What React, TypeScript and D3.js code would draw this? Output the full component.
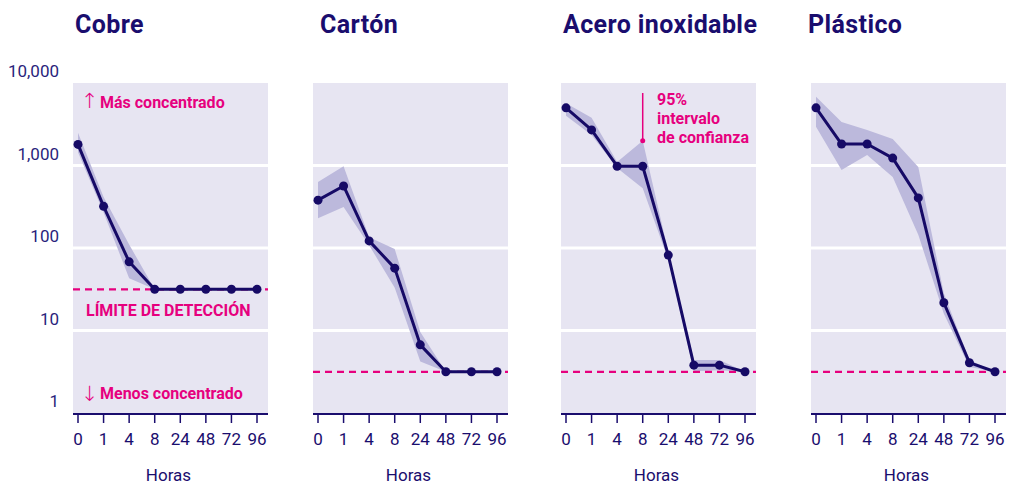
import React from "react"
import * as d3 from "d3"

const hours = ["0", "1", "4", "8", "24", "48", "72", "96"]
const materials = ["Cobre", "Cartón", "Acero inoxidable", "Plástico"]
const yTicks = [1, 10, 100, 1000, 10000]
const yTickLabels = ["1", "10", "100", "1,000", "10,000"]
const detectionLimits = [31.6, 3.16, 3.16, 3.16]

// titer estimates and 95% interval
const cobreMean = [1800, 320, 68, 31.6, 31.6, 31.6, 31.6, 31.6]
const cobreLow = [1450, 270, 43, 31.6, 31.6, 31.6, 31.6, 31.6]
const cobreHigh = [2500, 415, 110, 31.6, 31.6, 31.6, 31.6, 31.6]

const cartonMean = [380, 565, 122, 57, 6.7, 3.16, 3.16, 3.16]
const cartonLow = [230, 315, 108, 33, 4.2, 3.16, 3.16, 3.16]
const cartonHigh = [630, 980, 135, 97, 9.6, 3.16, 3.16, 3.16]

const aceroMean = [5000, 2700, 980, 980, 82, 3.8, 3.8, 3.16]
const aceroLow = [4000, 2350, 930, 530, 72, 3.2, 3.3, 3.16]
const aceroHigh = [5700, 3800, 1100, 2000, 90, 4.4, 4.4, 3.16]

const plasticoMean = [5000, 1820, 1820, 1230, 405, 21.7, 4.07, 3.16]
const plasticoLow = [2950, 880, 1340, 725, 145, 16, 3.6, 3.16]
const plasticoHigh = [6800, 3370, 2700, 2100, 960, 28, 4.4, 3.16]

const means = [cobreMean, cartonMean, aceroMean, plasticoMean]
const lows = [cobreLow, cartonLow, aceroLow, plasticoLow]
const highs = [cobreHigh, cartonHigh, aceroHigh, plasticoHigh]

const panelLeft = [73, 313, 561, 811]
const titleLeft = [75, 320, 563, 808]
const panelW = 195
const top = 83
const bottom = 413

const NAVY = "#1a0d6e"
const LINE = "#160a66"
const PINK = "#e6007e"
const PANEL = "#e7e5f2"
const BAND = "#bcb9dc"
const FONT = "Roboto, 'DejaVu Sans', sans-serif"

const y = d3.scaleLog().domain([1, 10000]).range([bottom, top])

const App: React.FC = () => {
  return (
    <svg
      width={1009}
      height={485}
      style={{ position: "absolute", left: 0, top: 0, display: "block" }}
      fontFamily={FONT}
    >
      {yTicks.map((t, i) => (
        <text
          key={t}
          x={59}
          y={y(t) - 6}
          textAnchor="end"
          fontSize={17}
          fill="#2a1f7c"
        >
          {yTickLabels[i]}
        </text>
      ))}

      {materials.map((m, p) => {
        const left = panelLeft[p]
        const x = d3
          .scalePoint<string>()
          .domain(hours)
          .range([left + 5, left + panelW - 11])
        const pts = hours.map((h, i) => ({
          h,
          mean: means[p][i],
          low: lows[p][i],
          high: highs[p][i],
        }))
        const area = d3
          .area<typeof pts[0]>()
          .x((d) => x(d.h)!)
          .y0((d) => y(d.low))
          .y1((d) => y(d.high))
        const line = d3
          .line<typeof pts[0]>()
          .x((d) => x(d.h)!)
          .y((d) => y(d.mean))
        const lim = y(detectionLimits[p])
        return (
          <g key={m}>
            <text
              x={titleLeft[p]}
              y={33}
              fontSize={25}
              fontWeight={700}
              letterSpacing={0.4}
              fill={NAVY}
            >
              {m}
            </text>
            <rect x={left} y={top} width={panelW} height={bottom - top} fill={PANEL} />
            {yTicks.slice(1, -1).map((t) => (
              <line
                key={t}
                x1={left}
                x2={left + panelW}
                y1={y(t)}
                y2={y(t)}
                stroke="#fff"
                strokeWidth={3}
              />
            ))}
            <path d={area(pts)!} fill={BAND} />
            <line
              x1={left}
              x2={left + panelW}
              y1={lim}
              y2={lim}
              stroke={PINK}
              strokeWidth={2.2}
              strokeDasharray="7,5"
            />
            <path d={line(pts)!} fill="none" stroke={LINE} strokeWidth={3} strokeLinejoin="round" />
            {pts.map((d) => (
              <circle key={d.h} cx={x(d.h)} cy={y(d.mean)} r={4.5} fill={LINE} />
            ))}
            <line
              x1={left}
              x2={left + panelW}
              y1={bottom + 1}
              y2={bottom + 1}
              stroke={NAVY}
              strokeWidth={2}
            />
            {hours.map((h) => (
              <g key={h}>
                <line
                  x1={x(h)}
                  x2={x(h)}
                  y1={bottom + 1}
                  y2={bottom + 10}
                  stroke={NAVY}
                  strokeWidth={1.5}
                />
                <text
                  x={x(h)}
                  y={445}
                  textAnchor="middle"
                  fontSize={17}
                  fill={NAVY}
                >
                  {h}
                </text>
              </g>
            ))}
            <text
              x={left + panelW / 2 - 2}
              y={481}
              textAnchor="middle"
              fontSize={17}
              fill={NAVY}
            >
              Horas
            </text>
            {p === 0 && (
              <g fill={PINK} fontSize={16} fontWeight={700}>
                <text x={81} y={108}>
                  <tspan fontSize={21} fontWeight={300}>↑</tspan>
                  <tspan x={100}>Más concentrado</tspan>
                </text>
                <text x={86} y={316}>
                  LÍMITE DE DETECCIÓN
                </text>
                <text x={81} y={399}>
                  <tspan fontSize={21} fontWeight={300} dy={2}>↓</tspan>
                  <tspan x={100} dy={-2}>Menos concentrado</tspan>
                </text>
              </g>
            )}
            {p === 2 && (
              <g>
                <line
                  x1={x("8")}
                  x2={x("8")}
                  y1={93}
                  y2={y(highs[p][3])}
                  stroke={PINK}
                  strokeWidth={1.5}
                />
                <circle cx={x("8")} cy={y(highs[p][3])} r={2.5} fill={PINK} />
                <g fill={PINK} fontSize={16} fontWeight={700}>
                  <text x={657} y={105}>95%</text>
                  <text x={657} y={124}>intervalo</text>
                  <text x={657} y={143}>de confianza</text>
                </g>
              </g>
            )}
          </g>
        )
      })}
    </svg>
  )
}

export default App
